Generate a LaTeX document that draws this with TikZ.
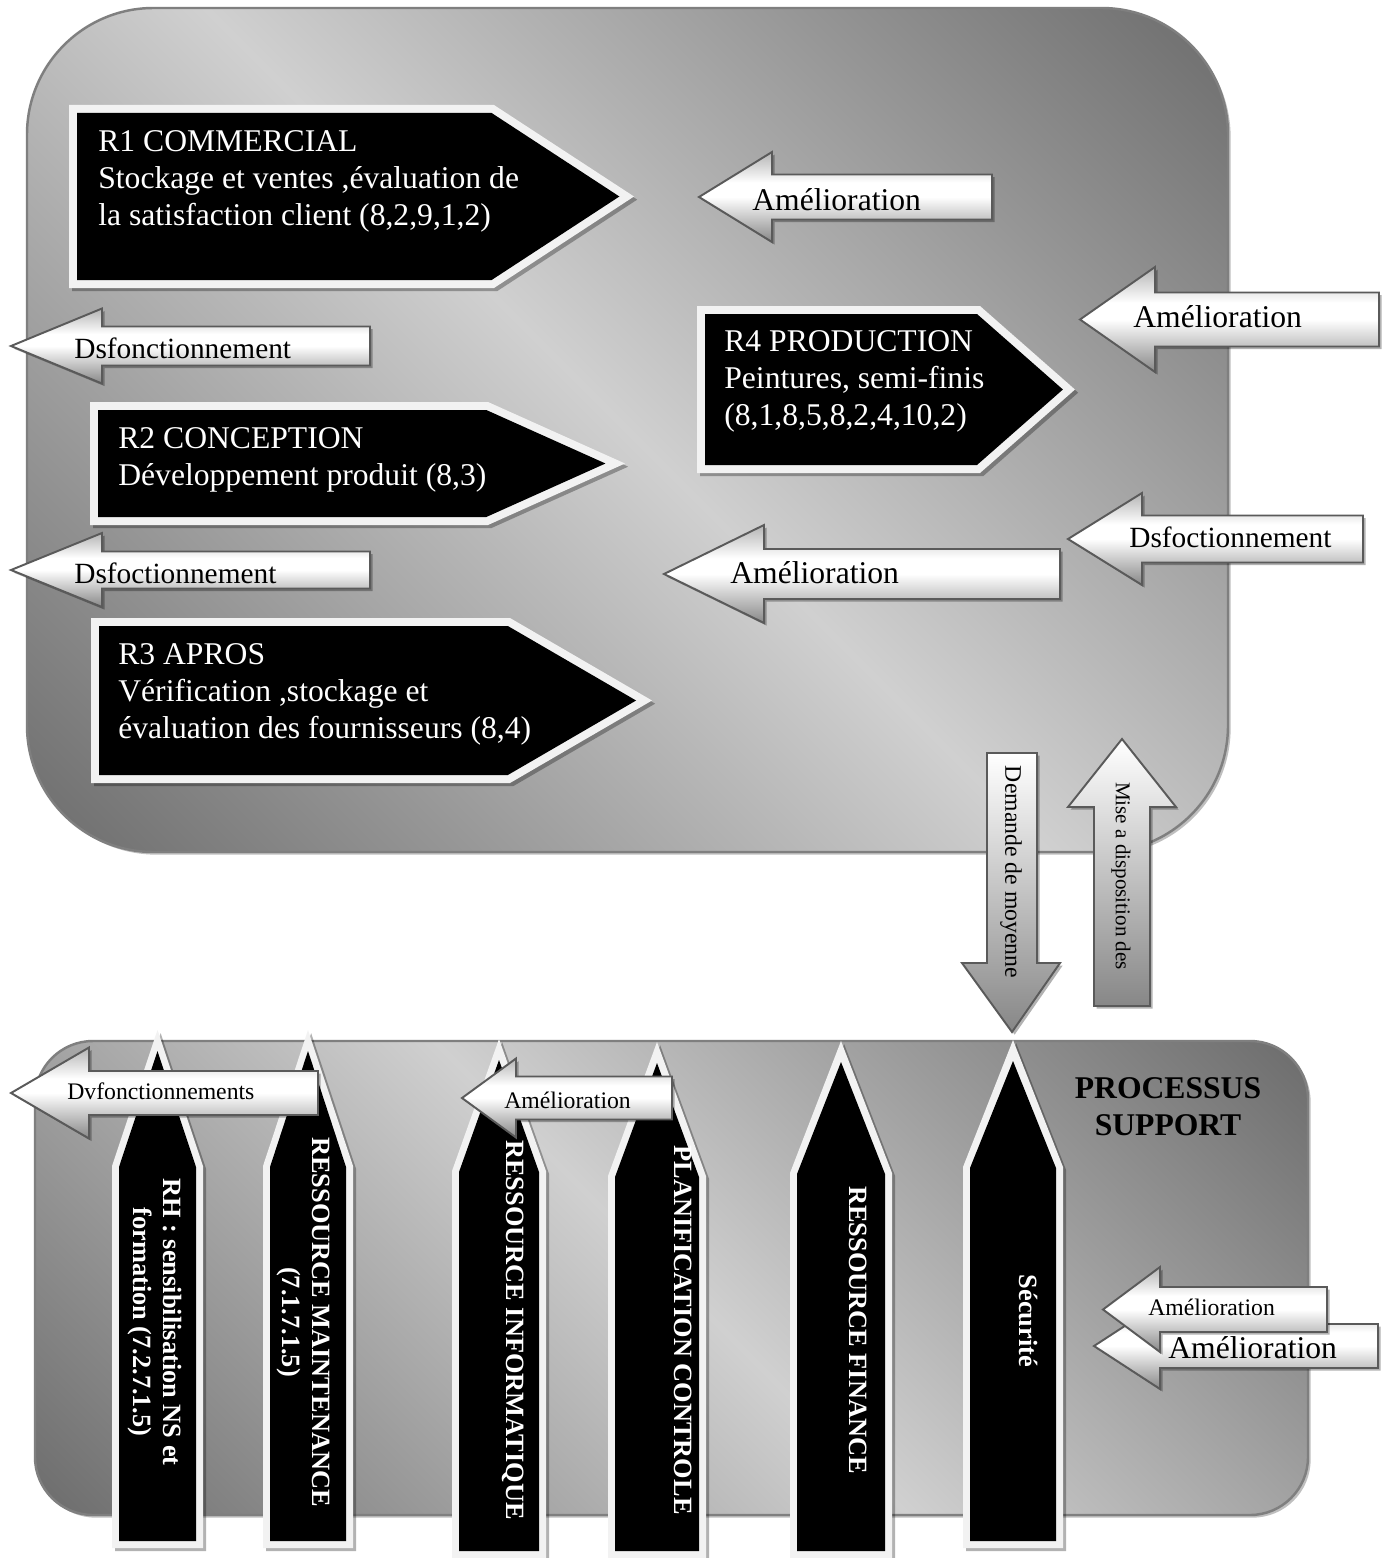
\documentclass[tikz,border=0pt]{standalone}
\usepackage{fontspec}
\setmainfont{Liberation Serif}
\usetikzlibrary{shadows}

\definecolor{paneldark}{HTML}{6C6C6C}
\definecolor{panellight}{HTML}{D0D0D0}
\definecolor{rimgray}{HTML}{7F7F7F}
\definecolor{edgegray}{HTML}{5A5A5A}
\definecolor{bordwhite}{HTML}{F2F2F2}
\definecolor{arrowlow}{HTML}{878787}
\definecolor{arrowtop}{HTML}{B4B4B4}

% diagonal grey fill of the two process panels
\pgfdeclarehorizontalshading{panelshade}{100bp}{color(0bp)=(paneldark); color(14.6bp)=(paneldark); color(50bp)=(panellight); color(85.4bp)=(paneldark); color(100bp)=(paneldark)}
% metallic fill of the horizontal block arrows
\pgfdeclareverticalshading{blockshade}{100bp}{color(0bp)=(arrowlow); color(25bp)=(arrowlow); color(50bp)=(white); color(58bp)=(white); color(75bp)=(arrowtop); color(100bp)=(arrowtop)}
% fill of the vertical exchange arrows
\pgfdeclareverticalshading{stemshade}{100bp}{color(0bp)=(arrowlow); color(25bp)=(arrowlow); color(75bp)=(white); color(100bp)=(white)}

\tikzset{
  panel/.style={draw=rimgray, line width=1.4pt, shading=panelshade, shading angle=45,
    drop shadow={shadow xshift=1.5pt, shadow yshift=-1.5pt, fill=black, opacity=.25}},
  blockarrow/.style={draw=edgegray, line width=1.1pt, line join=miter, shading=blockshade,
    drop shadow={shadow xshift=1.5pt, shadow yshift=-1.5pt, fill=black, opacity=.3}},
  stemarrow/.style={draw=edgegray, line width=1.1pt, line join=miter, shading=stemshade,
    drop shadow={shadow xshift=1.5pt, shadow yshift=-1.5pt, fill=black, opacity=.3}},
  whiteband/.style={fill=bordwhite,
    drop shadow={shadow xshift=1.8pt, shadow yshift=-1.8pt, fill=black, opacity=.3}},
  blackcore/.style={fill=black},
  % multi-line nodes: the base anchor sits on the last line
  proctext/.style={text=white, font=\fontsize{18}{20.8}\selectfont, align=left, anchor=base west, inner sep=0pt},
  biglabel/.style={font=\fontsize{18}{20}\selectfont, anchor=base west, inner sep=0pt},
  midlabel/.style={font=\fontsize{16.7}{19}\selectfont, anchor=base west, inner sep=0pt},
  smalllabel/.style={font=\fontsize{13.5}{16}\selectfont, anchor=base west, inner sep=0pt},
  pillartext/.style={text=white, font=\bfseries\fontsize{15}{17}\selectfont, rotate=-90, align=center, inner sep=0pt},
}

% left-pointing block arrow: style, tip x, axis y, head base x, head half height, body half height, tail x
\newcommand\leftblock[7]{%
  \path[#1] (#2,#3) -- (#4,{#3-#5}) -- (#4,{#3-#6}) -- (#7,{#3-#6}) -- (#7,{#3+#6})
    -- (#4,{#3+#6}) -- (#4,{#3+#5}) -- cycle;}

% core process: white-rimmed black pentagon; left x, top y, bottom y, shoulder x, tip x
\newcommand\coreprocess[5]{%
  \pgfmathsetmacro\cpmid{(#2+#3)/2}%
  \pgfmathsetmacro\cphalf{(#3-#2)/2}%
  \pgfmathsetmacro\cplen{100*sqrt(((#5-#4)/100)^2+(\cphalf/100)^2)}%
  \pgfmathsetmacro\cptip{#5-8*\cplen/\cphalf}%
  \pgfmathsetmacro\cpshoulder{\cptip-(\cphalf-8)*(#5-#4)/\cphalf}%
  \path[whiteband] (#1,#2) -- (#4,#2) -- (#5,\cpmid) -- (#4,#3) -- (#1,#3) -- cycle;
  \path[blackcore] ({#1+8},{#2+8}) -- (\cpshoulder,{#2+8}) -- (\cptip,\cpmid)
    -- (\cpshoulder,{#3-8}) -- ({#1+8},{#3-8}) -- cycle;}

% support process: upward pencil; centre x, half width, tip y, shoulder y, bottom y
\newcommand\supportpillar[5]{%
  \path[whiteband] ({#1-#2},#5) -- ({#1-#2},#4) -- (#1,#3) -- ({#1+#2},#4) -- ({#1+#2},#5) -- cycle;
  \path[blackcore] ({#1-#2+7},{#5-7}) -- ({#1-#2+7},{#4+1}) -- (#1,{#3+21})
    -- ({#1+#2-7},{#4+1}) -- ({#1+#2-7},{#5-7}) -- cycle;}

\begin{document}
\begin{tikzpicture}[x=0.02cm, y=-0.02cm]
\useasboundingbox[fill=white] (0,0) rectangle (1386,1558);

% ---- panels ----
\path[panel, rounded corners=72pt] (27,8) rectangle (1228,852);
\path[panel, rounded corners=33pt] (35,1041) rectangle (1308,1515);

% ---- core processes ----
\coreprocess{69}{105}{288}{494}{634}
\node[proctext] (r1) at (98,225) {R1 COMMERCIAL\\Stockage et ventes ,évaluation de\\la satisfaction client (8,2,9,1,2)};

\leftblock{blockarrow}{699}{197}{772}{45}{22.5}{992}
\node[biglabel] (amel1) at (752,210) {Amélioration};

\leftblock{blockarrow}{1080}{319.5}{1155}{52.5}{27}{1379}
\node[biglabel] (amel2) at (1133,327) {Amélioration};

\leftblock{blockarrow}{11}{346}{102}{37.5}{19.5}{370}
\node[midlabel] (dys1) at (74,358) {Dsfonctionnement};

\coreprocess{697}{306}{473}{980}{1075}
\node[proctext] (r4) at (724,425) {R4 PRODUCTION\\Peintures, semi-finis\\(8,1,8,5,8,2,4,10,2)};

\coreprocess{90}{402}{525}{488}{625}
\node[proctext] (r2) at (118,485) {R2 CONCEPTION\\Développement produit (8,3)};

\leftblock{blockarrow}{11}{570}{102}{37}{18.5}{370}
\node[midlabel] (dys2) at (74,583) {Dsfoctionnement};

\leftblock{blockarrow}{664}{574}{764}{49}{25}{1060}
\node[biglabel] (amel3) at (730,583) {Amélioration};

\leftblock{blockarrow}{1068}{539}{1142}{46}{23.5}{1363}
\node[midlabel] (dys3) at (1129,547) {Dsfoctionnement};

\coreprocess{91}{618}{783}{510}{652}
\node[proctext] (r3) at (118,738) {R3 APROS\\Vérification ,stockage et\\évaluation des fournisseurs (8,4)};

% ---- exchanges between the two panels ----
\path[stemarrow] (1012,1032) -- (962,963) -- (987,963) -- (987,753) -- (1037,753) -- (1037,963) -- (1060,963) -- cycle;
\node[rotate=-90, font=\fontsize{13.5}{16}\selectfont, inner sep=0pt] (demande) at (1011,872) {Demande de moyenne};

\path[stemarrow] (1122,739) -- (1176,807) -- (1150,807) -- (1150,1006) -- (1094,1006) -- (1094,807) -- (1068,807) -- cycle;
\node[rotate=-90, font=\fontsize{12}{14}\selectfont, inner sep=0pt] (mise) at (1121,876) {Mise a disposition des};

% ---- support processes ----
\supportpillar{157.5}{45.5}{1030}{1166}{1548}
\supportpillar{308}{45}{1030}{1166}{1548}
\supportpillar{499}{47}{1039}{1171}{1558}
\supportpillar{657}{49}{1042}{1176}{1558}
\supportpillar{841}{51}{1041}{1173}{1558}
\supportpillar{1013}{50}{1040}{1167}{1548}

\leftblock{blockarrow}{11}{1093}{89}{45.5}{22}{318}
\node[smalllabel] (dys4) at (67,1099) {Dvfonctionnements};

\leftblock{blockarrow}{462}{1098}{516}{39.5}{21.5}{672}
\node[smalllabel] (amel4) at (504,1108) {Amélioration};

\node[pillartext] (rh) at (155,1322) {RH : sensibilisation NS et\\formation (7.2.7.1.5)};
\node[pillartext] (maint) at (303,1322) {RESSOURCE MAINTENANCE\\(7.1.7.1.5)};
\node[pillartext] (info) at (513,1330) {RESSOURCE INFORMATIQUE};
\node[pillartext] (plan) at (683,1330) {PLANIFICATION CONTROLE};
\node[pillartext] (fin) at (858,1330) {RESSOURCE FINANCE};
\node[pillartext] (secu) at (1028,1321) {Sécurité};

\node[font=\bfseries\fontsize{18}{20.5}\selectfont, align=center, anchor=base, inner sep=0pt] (suptitle) at (1168,1135) {PROCESSUS\\SUPPORT};

\leftblock{blockarrow}{1094}{1346}{1160}{43}{22}{1378}
\leftblock{blockarrow}{1103}{1309.5}{1160}{42.5}{22.5}{1327}
\node[smalllabel] (amel5) at (1148,1315) {Amélioration};
\node[biglabel] (amel6) at (1168,1358) {Amélioration};

\end{tikzpicture}
\end{document}
